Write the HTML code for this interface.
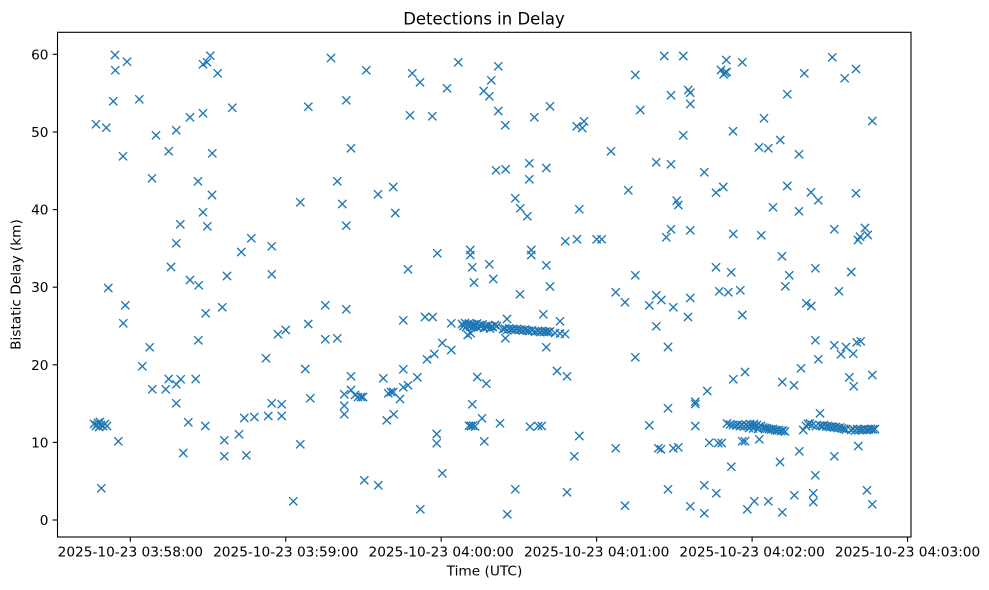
<!DOCTYPE html>
<html><head><meta charset="utf-8"><style>
html,body{margin:0;padding:0;background:#fff;}
svg{display:block;}
text{font-family:"DejaVu Sans","Liberation Sans",sans-serif;fill:#000;}
</style></head><body>
<svg width="989" height="590" viewBox="0 0 989 590" xmlns="http://www.w3.org/2000/svg">
<defs><path id="m" d="M-4.1,-4.1L4.1,4.1M-4.1,4.1L4.1,-4.1" stroke="#1f77b4" stroke-width="1.37" fill="none"/></defs>
<rect x="0" y="0" width="989" height="590" fill="#fff"/>
<g>
<use href="#m" x="115" y="55"/><use href="#m" x="115.3" y="70.3"/><use href="#m" x="127" y="61.7"/><use href="#m" x="113.3" y="101.3"/><use href="#m" x="139.3" y="99.3"/><use href="#m" x="96" y="124.3"/><use href="#m" x="106.3" y="127.7"/><use href="#m" x="123" y="156.3"/><use href="#m" x="156" y="135.3"/><use href="#m" x="176.3" y="130.3"/><use href="#m" x="190" y="117.3"/><use href="#m" x="203" y="113.3"/><use href="#m" x="168.7" y="151.3"/><use href="#m" x="152" y="178.3"/><use href="#m" x="203" y="64.3"/><use href="#m" x="207" y="62.3"/><use href="#m" x="210.3" y="55.7"/><use href="#m" x="217.7" y="73.3"/><use href="#m" x="212.3" y="153.3"/><use href="#m" x="232.3" y="107.7"/><use href="#m" x="198" y="181.3"/><use href="#m" x="212" y="195"/><use href="#m" x="203" y="212.3"/><use href="#m" x="207.3" y="226.3"/><use href="#m" x="180.3" y="224.3"/><use href="#m" x="176.3" y="243.3"/><use href="#m" x="171" y="267"/><use href="#m" x="190" y="280"/><use href="#m" x="227" y="276"/><use href="#m" x="241.3" y="252"/><use href="#m" x="251.3" y="238.3"/><use href="#m" x="271.7" y="246.3"/><use href="#m" x="271.7" y="274.3"/><use href="#m" x="300.3" y="202.3"/><use href="#m" x="308.3" y="106.7"/><use href="#m" x="331" y="58"/>
<use href="#m" x="108.3" y="288"/><use href="#m" x="125.3" y="305.3"/><use href="#m" x="123.3" y="323.3"/><use href="#m" x="198.7" y="285.3"/><use href="#m" x="222.3" y="307.3"/><use href="#m" x="205.7" y="313.3"/><use href="#m" x="198.3" y="340.3"/><use href="#m" x="149.7" y="347.3"/><use href="#m" x="142.3" y="366.3"/><use href="#m" x="152.3" y="389.3"/><use href="#m" x="165.7" y="389.3"/><use href="#m" x="168.7" y="379"/><use href="#m" x="176.3" y="384.3"/><use href="#m" x="180.7" y="379.3"/><use href="#m" x="195.7" y="379"/><use href="#m" x="176.3" y="403.3"/><use href="#m" x="188.3" y="422.3"/><use href="#m" x="205.3" y="426"/><use href="#m" x="183.3" y="453"/><use href="#m" x="224.3" y="440.3"/><use href="#m" x="224.3" y="456.3"/><use href="#m" x="239" y="434.3"/><use href="#m" x="246.3" y="455.3"/><use href="#m" x="244.3" y="418"/><use href="#m" x="254.3" y="417"/><use href="#m" x="268.3" y="416"/><use href="#m" x="271.7" y="403.3"/><use href="#m" x="281.7" y="404.3"/><use href="#m" x="281.7" y="416"/><use href="#m" x="266" y="358.3"/><use href="#m" x="278" y="334.3"/><use href="#m" x="285.7" y="330"/><use href="#m" x="293.3" y="501.3"/><use href="#m" x="300.3" y="444.3"/><use href="#m" x="305.3" y="369"/><use href="#m" x="310.3" y="398.3"/><use href="#m" x="308.3" y="324"/><use href="#m" x="325.3" y="305.3"/><use href="#m" x="325.3" y="339.3"/><use href="#m" x="118.3" y="441.3"/><use href="#m" x="101.3" y="488.3"/>
<use href="#m" x="94" y="424"/><use href="#m" x="96" y="426"/><use href="#m" x="98" y="423"/><use href="#m" x="99" y="427"/><use href="#m" x="101" y="425"/><use href="#m" x="103" y="426"/><use href="#m" x="105" y="424"/><use href="#m" x="107" y="426"/><use href="#m" x="97" y="425"/><use href="#m" x="100" y="422"/>
<use href="#m" x="366.3" y="70.3"/><use href="#m" x="412.3" y="73.3"/><use href="#m" x="420" y="82.3"/><use href="#m" x="458.3" y="62.3"/><use href="#m" x="498.3" y="66.3"/><use href="#m" x="491.3" y="80.3"/><use href="#m" x="447" y="88.3"/><use href="#m" x="483.7" y="91"/><use href="#m" x="489.3" y="96.3"/><use href="#m" x="346.3" y="100.3"/><use href="#m" x="410" y="115.3"/><use href="#m" x="432.3" y="116.3"/><use href="#m" x="498.3" y="111"/><use href="#m" x="505.3" y="125.3"/><use href="#m" x="534.3" y="117.3"/><use href="#m" x="550" y="106.3"/><use href="#m" x="576.7" y="126.3"/><use href="#m" x="584" y="121.3"/><use href="#m" x="582.3" y="128"/><use href="#m" x="611" y="151.3"/><use href="#m" x="351" y="148.3"/><use href="#m" x="337.3" y="181.3"/><use href="#m" x="342.3" y="204"/><use href="#m" x="346.3" y="225.7"/><use href="#m" x="378" y="194.3"/><use href="#m" x="393.3" y="187"/><use href="#m" x="395.3" y="213"/><use href="#m" x="496" y="170.3"/><use href="#m" x="505.7" y="169.3"/><use href="#m" x="529.3" y="163.3"/><use href="#m" x="529.3" y="179.3"/><use href="#m" x="546.3" y="168"/><use href="#m" x="515.3" y="198.3"/><use href="#m" x="520.3" y="208.3"/><use href="#m" x="527.3" y="216.3"/><use href="#m" x="579.3" y="209.3"/><use href="#m" x="565.3" y="241.3"/><use href="#m" x="577" y="239.3"/><use href="#m" x="596.7" y="239.3"/><use href="#m" x="601.7" y="239.3"/><use href="#m" x="437.3" y="253.3"/><use href="#m" x="470.3" y="250"/><use href="#m" x="470.3" y="255"/><use href="#m" x="531.3" y="250"/><use href="#m" x="531.3" y="255"/><use href="#m" x="408" y="269.3"/><use href="#m" x="472.3" y="267.3"/><use href="#m" x="489.3" y="264.3"/><use href="#m" x="546.3" y="265.3"/><use href="#m" x="474" y="282.5"/><use href="#m" x="493.3" y="279"/><use href="#m" x="550" y="286.5"/><use href="#m" x="615.7" y="292.3"/>
<use href="#m" x="520" y="294.3"/><use href="#m" x="346.3" y="309.3"/><use href="#m" x="337.3" y="338.3"/><use href="#m" x="403.3" y="320.3"/><use href="#m" x="425" y="317"/><use href="#m" x="432.7" y="317"/><use href="#m" x="451.3" y="323.3"/><use href="#m" x="507" y="319"/><use href="#m" x="543.3" y="314.3"/><use href="#m" x="560" y="321.3"/><use href="#m" x="467.7" y="335"/><use href="#m" x="470.7" y="333.3"/><use href="#m" x="505.3" y="338.3"/><use href="#m" x="546.3" y="347.3"/><use href="#m" x="442.3" y="343"/><use href="#m" x="451.3" y="350"/><use href="#m" x="434.3" y="354"/><use href="#m" x="427" y="359.3"/><use href="#m" x="403.3" y="369.3"/><use href="#m" x="417.3" y="377.3"/><use href="#m" x="408" y="385.3"/><use href="#m" x="403.3" y="387.3"/><use href="#m" x="383.3" y="378.3"/><use href="#m" x="351" y="376.3"/><use href="#m" x="344.3" y="394.3"/><use href="#m" x="351" y="390"/><use href="#m" x="355" y="395"/><use href="#m" x="358" y="397"/><use href="#m" x="361" y="397"/><use href="#m" x="363" y="397"/><use href="#m" x="391" y="392"/><use href="#m" x="393.3" y="392"/><use href="#m" x="388.3" y="393.3"/><use href="#m" x="400" y="399"/><use href="#m" x="344.3" y="405.7"/><use href="#m" x="344.3" y="414.3"/><use href="#m" x="386.7" y="420.3"/><use href="#m" x="393.7" y="414.3"/><use href="#m" x="477.3" y="377"/><use href="#m" x="486.3" y="383.7"/><use href="#m" x="472.3" y="404.3"/><use href="#m" x="482" y="418.3"/><use href="#m" x="469" y="425.7"/><use href="#m" x="471" y="426"/><use href="#m" x="473" y="425.5"/><use href="#m" x="475" y="426.5"/><use href="#m" x="500" y="423.3"/><use href="#m" x="484.3" y="441.3"/><use href="#m" x="436.7" y="434"/><use href="#m" x="436.7" y="443.3"/><use href="#m" x="530" y="426.7"/><use href="#m" x="538.3" y="426"/><use href="#m" x="541.7" y="426"/><use href="#m" x="557" y="371"/><use href="#m" x="567" y="376.3"/><use href="#m" x="579.3" y="436"/><use href="#m" x="574.3" y="456.3"/><use href="#m" x="615.7" y="448.3"/><use href="#m" x="364.3" y="480.3"/><use href="#m" x="378.3" y="485.3"/><use href="#m" x="442.3" y="473.3"/><use href="#m" x="420.3" y="509.3"/><use href="#m" x="515.3" y="489.3"/><use href="#m" x="567" y="492.3"/><use href="#m" x="507.3" y="514.3"/>
<use href="#m" x="462" y="324"/><use href="#m" x="463.5" y="326"/><use href="#m" x="465" y="323"/><use href="#m" x="466" y="327"/><use href="#m" x="467.5" y="325"/><use href="#m" x="469" y="323.5"/><use href="#m" x="470" y="326.5"/><use href="#m" x="471.5" y="324"/><use href="#m" x="473" y="327"/><use href="#m" x="474" y="324.5"/><use href="#m" x="475.5" y="326"/><use href="#m" x="477" y="323.5"/><use href="#m" x="478" y="327.5"/><use href="#m" x="479.5" y="325"/><use href="#m" x="481" y="326.5"/><use href="#m" x="482.5" y="324.5"/><use href="#m" x="484" y="328"/><use href="#m" x="485.5" y="326"/><use href="#m" x="487" y="327"/><use href="#m" x="488.5" y="325.5"/><use href="#m" x="490" y="328.5"/><use href="#m" x="491.5" y="326.5"/><use href="#m" x="493" y="327"/><use href="#m" x="495" y="325"/><use href="#m" x="497" y="326"/>
<use href="#m" x="503" y="329"/><use href="#m" x="505" y="328.5"/><use href="#m" x="507" y="330"/><use href="#m" x="509" y="328.5"/><use href="#m" x="511" y="329.5"/><use href="#m" x="513" y="329"/><use href="#m" x="515" y="330"/><use href="#m" x="517" y="329"/><use href="#m" x="519" y="330"/><use href="#m" x="521" y="329.5"/><use href="#m" x="523" y="330.5"/><use href="#m" x="525" y="329.5"/><use href="#m" x="527" y="330.5"/><use href="#m" x="529" y="331"/><use href="#m" x="532" y="330.5"/><use href="#m" x="535" y="331.5"/><use href="#m" x="538" y="331"/><use href="#m" x="540" y="332"/><use href="#m" x="542" y="331"/><use href="#m" x="544" y="332"/><use href="#m" x="546" y="331.5"/><use href="#m" x="548" y="332"/><use href="#m" x="550" y="331.5"/><use href="#m" x="555" y="333"/><use href="#m" x="560" y="333.5"/><use href="#m" x="565" y="334"/>
<use href="#m" x="664.3" y="56"/><use href="#m" x="683.3" y="56"/><use href="#m" x="726.3" y="60"/><use href="#m" x="742.3" y="62.3"/><use href="#m" x="721" y="70"/><use href="#m" x="725" y="72.7"/><use href="#m" x="723.7" y="74.3"/><use href="#m" x="726.7" y="72"/><use href="#m" x="635.3" y="75"/><use href="#m" x="832.3" y="57.3"/><use href="#m" x="804.3" y="73.3"/><use href="#m" x="844.7" y="78.3"/><use href="#m" x="856" y="69"/><use href="#m" x="671" y="95.3"/><use href="#m" x="688.3" y="90"/><use href="#m" x="690.3" y="92.7"/><use href="#m" x="690.3" y="104"/><use href="#m" x="640.3" y="110"/><use href="#m" x="787.3" y="94.3"/><use href="#m" x="764" y="118.3"/><use href="#m" x="872.3" y="121"/><use href="#m" x="683.3" y="135.3"/><use href="#m" x="733" y="131.3"/><use href="#m" x="759" y="147.3"/><use href="#m" x="768.3" y="148.3"/><use href="#m" x="780.3" y="140"/><use href="#m" x="799" y="154.3"/><use href="#m" x="656.3" y="162.3"/><use href="#m" x="671" y="164.3"/><use href="#m" x="704.3" y="172.3"/><use href="#m" x="628.3" y="190.3"/><use href="#m" x="676.7" y="200.7"/><use href="#m" x="678.3" y="205"/><use href="#m" x="716" y="192.7"/><use href="#m" x="723.3" y="187"/><use href="#m" x="787.3" y="186"/><use href="#m" x="811" y="192.3"/><use href="#m" x="818.3" y="200.3"/><use href="#m" x="856" y="193.3"/><use href="#m" x="773" y="207.3"/><use href="#m" x="799" y="211.3"/><use href="#m" x="671" y="229.3"/><use href="#m" x="666.3" y="237.3"/><use href="#m" x="690.3" y="230.3"/><use href="#m" x="733.3" y="234"/><use href="#m" x="761.3" y="235.3"/><use href="#m" x="834.3" y="229.3"/><use href="#m" x="865" y="228"/><use href="#m" x="860" y="236.7"/><use href="#m" x="867.7" y="235"/><use href="#m" x="858" y="240"/><use href="#m" x="782" y="256.3"/><use href="#m" x="716" y="267.3"/><use href="#m" x="731.3" y="272.3"/><use href="#m" x="635.3" y="275.3"/><use href="#m" x="789.3" y="275.3"/><use href="#m" x="815.3" y="268.3"/><use href="#m" x="851.3" y="272"/>
<use href="#m" x="625" y="302.3"/><use href="#m" x="649.3" y="305.3"/><use href="#m" x="656.3" y="295.3"/><use href="#m" x="661.3" y="300"/><use href="#m" x="673.3" y="307.3"/><use href="#m" x="690.3" y="298"/><use href="#m" x="688" y="317"/><use href="#m" x="656.3" y="326.3"/><use href="#m" x="719.3" y="291.3"/><use href="#m" x="728.3" y="292.3"/><use href="#m" x="740.3" y="290.3"/><use href="#m" x="742.3" y="315"/><use href="#m" x="785.3" y="286.3"/><use href="#m" x="806.3" y="303.3"/><use href="#m" x="811.3" y="306"/><use href="#m" x="839" y="291.3"/><use href="#m" x="668" y="347"/><use href="#m" x="635.3" y="357.3"/><use href="#m" x="815.3" y="340.3"/><use href="#m" x="818.3" y="359.3"/><use href="#m" x="834.3" y="345.3"/><use href="#m" x="841" y="354.3"/><use href="#m" x="846" y="347"/><use href="#m" x="853.3" y="353.7"/><use href="#m" x="856.7" y="342.3"/><use href="#m" x="860.7" y="341.3"/><use href="#m" x="801" y="368.3"/><use href="#m" x="782.3" y="382"/><use href="#m" x="794" y="385.3"/><use href="#m" x="849.3" y="377.3"/><use href="#m" x="853.7" y="386.3"/><use href="#m" x="872.3" y="375"/><use href="#m" x="733.3" y="379.3"/><use href="#m" x="745" y="372"/><use href="#m" x="707.3" y="391"/><use href="#m" x="695.3" y="401.7"/><use href="#m" x="695.3" y="404"/><use href="#m" x="668" y="408.3"/><use href="#m" x="649.3" y="425.3"/><use href="#m" x="695.3" y="426"/><use href="#m" x="820" y="413.3"/><use href="#m" x="759.3" y="439.3"/><use href="#m" x="742.3" y="441.3"/><use href="#m" x="745" y="441.3"/><use href="#m" x="709.3" y="442.7"/><use href="#m" x="718.3" y="443"/><use href="#m" x="721.7" y="443"/><use href="#m" x="658.3" y="448.3"/><use href="#m" x="661" y="449.3"/><use href="#m" x="673.3" y="448.3"/><use href="#m" x="678.3" y="447.3"/><use href="#m" x="799.3" y="451.3"/><use href="#m" x="834.3" y="456.3"/><use href="#m" x="858.3" y="446"/><use href="#m" x="780" y="462"/><use href="#m" x="731.3" y="466.7"/><use href="#m" x="815.3" y="475.3"/><use href="#m" x="668" y="489.3"/><use href="#m" x="704.3" y="485.3"/><use href="#m" x="716.3" y="493.3"/><use href="#m" x="794.3" y="495.3"/><use href="#m" x="813.3" y="493.3"/><use href="#m" x="813.3" y="502"/><use href="#m" x="867" y="490.3"/><use href="#m" x="625" y="505.7"/><use href="#m" x="690.3" y="506.3"/><use href="#m" x="704.3" y="513.3"/><use href="#m" x="754.3" y="501.3"/><use href="#m" x="747.3" y="509.3"/><use href="#m" x="768.3" y="501.3"/><use href="#m" x="782.3" y="512.3"/><use href="#m" x="872.3" y="504.3"/>
<use href="#m" x="727" y="423.5"/><use href="#m" x="730" y="424.5"/><use href="#m" x="733" y="425"/><use href="#m" x="736" y="425.5"/><use href="#m" x="738" y="424.5"/><use href="#m" x="740" y="426"/><use href="#m" x="742" y="425"/><use href="#m" x="744" y="426.5"/><use href="#m" x="746" y="425"/><use href="#m" x="748" y="426"/><use href="#m" x="750" y="424"/><use href="#m" x="752" y="425.5"/><use href="#m" x="754" y="424"/><use href="#m" x="755" y="426.5"/><use href="#m" x="757" y="425"/><use href="#m" x="759" y="427"/><use href="#m" x="761" y="426"/><use href="#m" x="763" y="427.5"/><use href="#m" x="765" y="428"/><use href="#m" x="767" y="428.5"/><use href="#m" x="769" y="429"/><use href="#m" x="771" y="429.5"/><use href="#m" x="773" y="429"/><use href="#m" x="775" y="430"/><use href="#m" x="777" y="430.5"/><use href="#m" x="779" y="430"/><use href="#m" x="781" y="431"/><use href="#m" x="783" y="430.5"/><use href="#m" x="785" y="431.5"/><use href="#m" x="749" y="428"/><use href="#m" x="753" y="428.5"/><use href="#m" x="758" y="429"/>
<use href="#m" x="803.3" y="430"/><use href="#m" x="806" y="426"/><use href="#m" x="808" y="424"/><use href="#m" x="810" y="423.5"/><use href="#m" x="812" y="425"/><use href="#m" x="816" y="426"/><use href="#m" x="820" y="425.5"/><use href="#m" x="822" y="426"/><use href="#m" x="824" y="425"/><use href="#m" x="826" y="426.5"/><use href="#m" x="828" y="426"/><use href="#m" x="830" y="427"/><use href="#m" x="832" y="426.5"/><use href="#m" x="834" y="427.5"/><use href="#m" x="836" y="427"/><use href="#m" x="838" y="428"/><use href="#m" x="840" y="427.5"/><use href="#m" x="842" y="428.5"/><use href="#m" x="844" y="429"/><use href="#m" x="846" y="429.5"/>
<use href="#m" x="851" y="430"/><use href="#m" x="853" y="429"/><use href="#m" x="855" y="430.5"/><use href="#m" x="857" y="429"/><use href="#m" x="859" y="430"/><use href="#m" x="861" y="429.5"/><use href="#m" x="863" y="430"/><use href="#m" x="865" y="429"/><use href="#m" x="867" y="430"/><use href="#m" x="869" y="429.5"/><use href="#m" x="871" y="429"/><use href="#m" x="873" y="429.5"/><use href="#m" x="875" y="429"/>
</g>
<rect x="57.5" y="32.3" width="853.5" height="504.7" fill="none" stroke="#000" stroke-width="1.1"/>
<g stroke="#000" stroke-width="1.1">
<line x1="57.5" y1="520" x2="52.7" y2="520"/><line x1="57.5" y1="442.4" x2="52.7" y2="442.4"/><line x1="57.5" y1="364.8" x2="52.7" y2="364.8"/><line x1="57.5" y1="287.2" x2="52.7" y2="287.2"/><line x1="57.5" y1="209.6" x2="52.7" y2="209.6"/><line x1="57.5" y1="132" x2="52.7" y2="132"/><line x1="57.5" y1="54.3" x2="52.7" y2="54.3"/>
<line x1="130.3" y1="537" x2="130.3" y2="541.8"/><line x1="285.75" y1="537" x2="285.75" y2="541.8"/><line x1="441.2" y1="537" x2="441.2" y2="541.8"/><line x1="596.65" y1="537" x2="596.65" y2="541.8"/><line x1="752.1" y1="537" x2="752.1" y2="541.8"/><line x1="907.55" y1="537" x2="907.55" y2="541.8"/>
</g>
<g font-size="13.7" text-anchor="end">
<text x="48.5" y="525">0</text><text x="48.5" y="447.4">10</text><text x="48.5" y="369.8">20</text><text x="48.5" y="292.2">30</text><text x="48.5" y="214.6">40</text><text x="48.5" y="137">50</text><text x="48.5" y="59.3">60</text>
</g>
<g font-size="13.7" text-anchor="middle">
<text x="130.3" y="556.5">2025-10-23 03:58:00</text><text x="285.75" y="556.5">2025-10-23 03:59:00</text><text x="441.2" y="556.5">2025-10-23 04:00:00</text><text x="596.65" y="556.5">2025-10-23 04:01:00</text><text x="752.1" y="556.5">2025-10-23 04:02:00</text><text x="907.55" y="556.5">2025-10-23 04:03:00</text>
</g>
<text x="484.5" y="575.5" font-size="13.7" text-anchor="middle">Time (UTC)</text>
<text x="20.5" y="284.5" font-size="13.7" text-anchor="middle" transform="rotate(-90 20.5 284.5)">Bistatic Delay (km)</text>
<text x="484" y="24.5" font-size="16.5" text-anchor="middle">Detections in Delay</text>
</svg>
</body></html>
